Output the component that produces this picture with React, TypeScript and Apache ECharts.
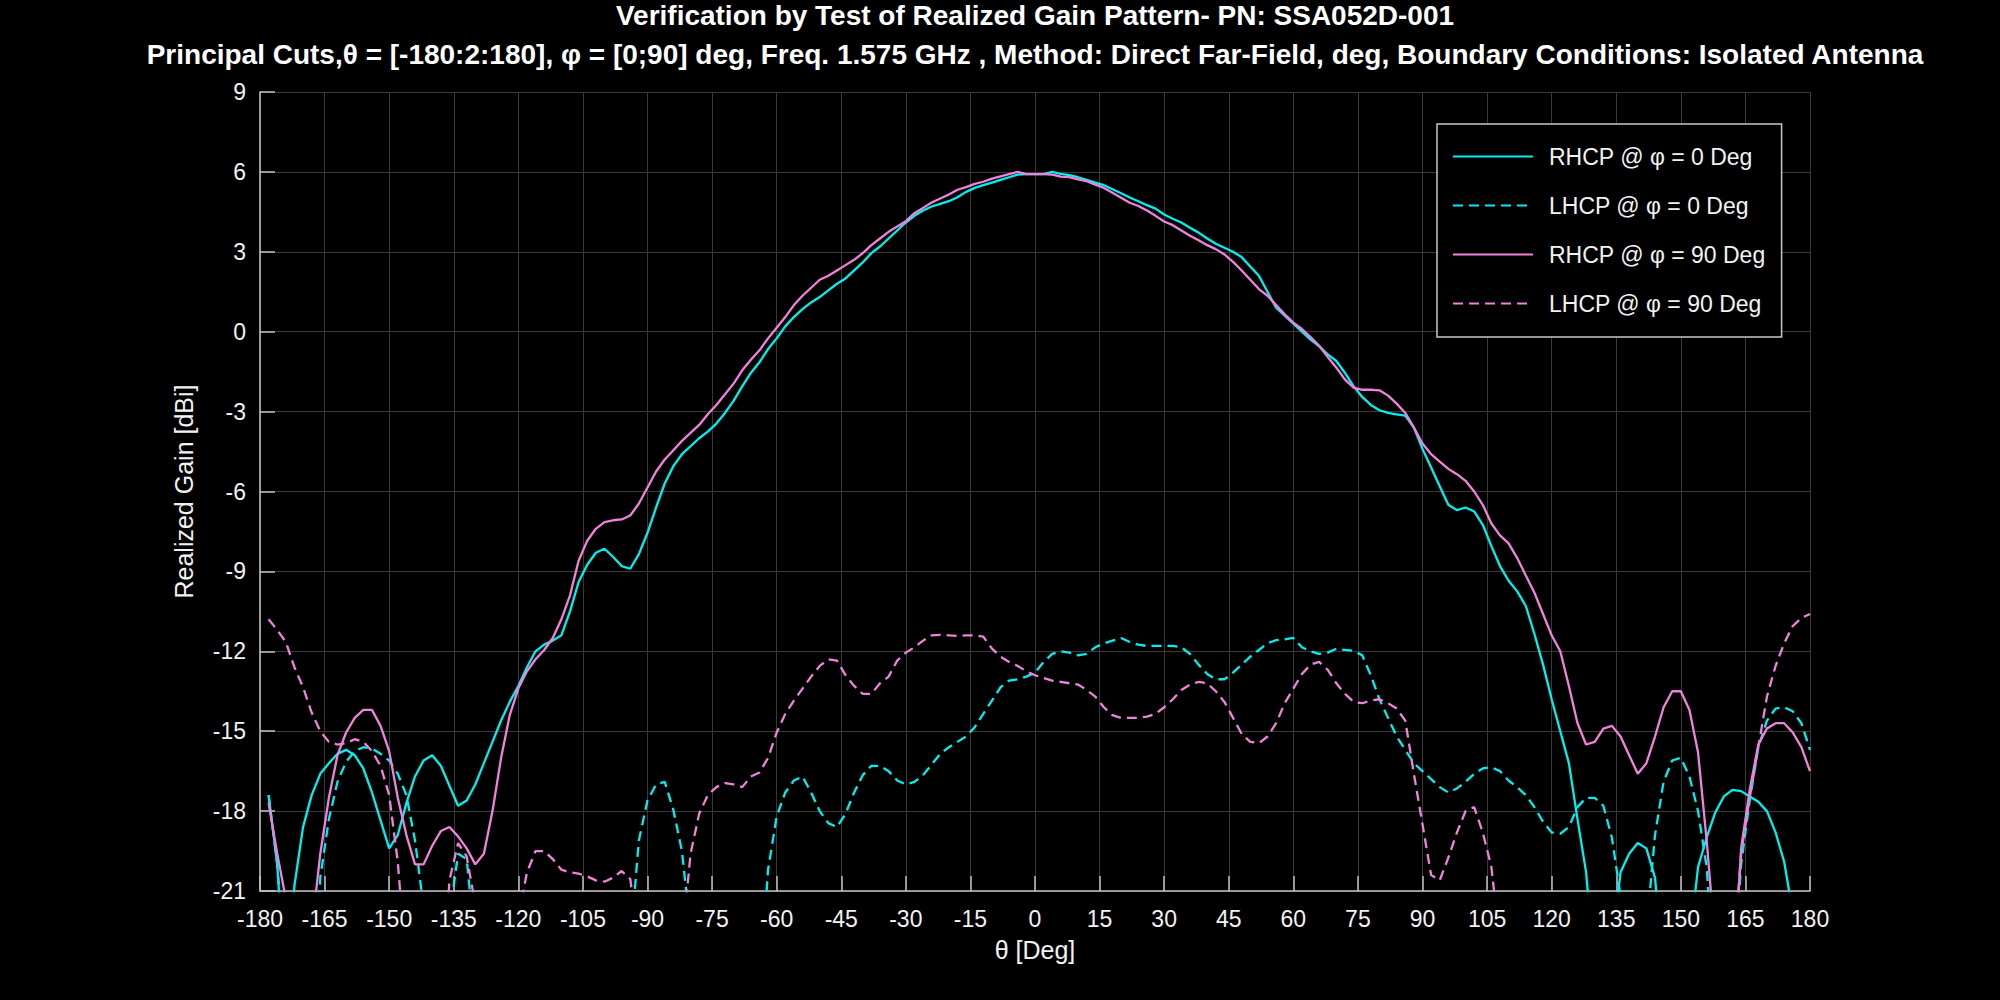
import React, { useEffect, useRef } from "react";
import * as echarts from "echarts";

// θ grid in degrees (data begins at -178)
const theta = [
  -178, -176, -174, -172, -170, -168, -166, -164, -162, -160,
  -158, -156, -154, -152, -150, -148, -146, -144, -142, -140,
  -138, -136, -134, -132, -130, -128, -126, -124, -122, -120,
  -118, -116, -114, -112, -110, -108, -106, -104, -102, -100,
  -98, -96, -94, -92, -90, -88, -86, -84, -82, -80,
  -78, -76, -74, -72, -70, -68, -66, -64, -62, -60,
  -58, -56, -54, -52, -50, -48, -46, -44, -42, -40,
  -38, -36, -34, -32, -30, -28, -26, -24, -22, -20,
  -18, -16, -14, -12, -10, -8, -6, -4, -2, 0,
  2, 4, 6, 8, 10, 12, 14, 16, 18, 20,
  22, 24, 26, 28, 30, 32, 34, 36, 38, 40,
  42, 44, 46, 48, 50, 52, 54, 56, 58, 60,
  62, 64, 66, 68, 70, 72, 74, 76, 78, 80,
  82, 84, 86, 88, 90, 92, 94, 96, 98, 100,
  102, 104, 106, 108, 110, 112, 114, 116, 118, 120,
  122, 124, 126, 128, 130, 132, 134, 136, 138, 140,
  142, 144, 146, 148, 150, 152, 154, 156, 158, 160,
  162, 164, 166, 168, 170, 172, 174, 176, 178, 180,
];

const rhcpPhi0 = [
  -17.4, -20.0, -25, -20.8, -18.6, -17.4, -16.6, -16.2, -15.85, -15.7,
  -15.9, -16.4, -17.3, -18.35, -19.4, -18.9, -17.7, -16.7, -16.1, -15.9,
  -16.3, -17.05, -17.8, -17.6, -17.0, -16.2, -15.4, -14.6, -13.9, -13.3,
  -12.6, -12.0, -11.75, -11.6, -11.4, -10.5, -9.4, -8.75, -8.3, -8.15,
  -8.45, -8.8, -8.9, -8.35, -7.55, -6.6, -5.7, -5.05, -4.6, -4.3,
  -4.0, -3.75, -3.45, -3.05, -2.6, -2.05, -1.55, -1.15, -0.65, -0.25,
  0.2, 0.55, 0.85, 1.1, 1.3, 1.55, 1.8, 2.0, 2.3, 2.6,
  2.95, 3.2, 3.5, 3.8, 4.1, 4.35, 4.55, 4.7, 4.8, 4.9,
  5.05, 5.25, 5.4, 5.5, 5.6, 5.7, 5.8, 5.9, 5.92, 5.92,
  5.92, 6.0, 5.93, 5.88, 5.8, 5.7, 5.6, 5.5, 5.35, 5.2,
  5.04, 4.9, 4.75, 4.62, 4.4, 4.24, 4.1, 3.9, 3.72, 3.5,
  3.3, 3.15, 3.0, 2.8, 2.45, 2.1, 1.5, 0.9, 0.6, 0.3,
  0.0, -0.3, -0.55, -0.85, -1.1, -1.55, -2.05, -2.45, -2.75, -2.95,
  -3.05, -3.1, -3.15, -3.6, -4.4, -5.1, -5.8, -6.5, -6.7, -6.6,
  -6.75, -7.25, -8.05, -8.8, -9.35, -9.75, -10.3, -11.35, -12.5, -13.8,
  -15.0, -16.2, -18.3, -20.3, -24, -28, -23, -20.3, -19.6, -19.2,
  -19.4, -20.5, -24, -28, -28, -23, -20.1, -19.0, -18.05, -17.45,
  -17.2, -17.25, -17.45, -17.65, -18.0, -18.8, -19.9, -21.8, -26, -30,
];

const lhcpPhi0 = [
  -17.4, -20.0, -24, -30, -30, -27, -20.5, -18.3, -16.9, -16.15,
  -15.75, -15.6, -15.65, -15.85, -16.1, -16.6, -17.4, -19.1, -21.6, -27,
  -30, -22, -19.6, -19.8, -23, -28, -30, -30, -30, -30,
  -30, -30, -30, -30, -30, -30, -30, -30, -30, -30,
  -30, -30, -23, -19.1, -17.6, -17.0, -16.9, -17.95, -19.5, -22.5,
  -28, -30, -30, -30, -30, -30, -30, -25, -20.2, -18.2,
  -17.3, -16.85, -16.7, -17.3, -18.0, -18.45, -18.6, -18.1, -17.3, -16.65,
  -16.3, -16.3, -16.5, -16.85, -17.0, -16.9, -16.65, -16.25, -15.85, -15.6,
  -15.4, -15.2, -14.85, -14.35, -13.85, -13.35, -13.1, -13.05, -12.95, -12.8,
  -12.4, -12.1, -12.0, -12.05, -12.15, -12.1, -11.85, -11.7, -11.6, -11.5,
  -11.65, -11.75, -11.8, -11.8, -11.8, -11.8, -11.85, -12.1, -12.5, -12.85,
  -13.05, -13.05, -12.8, -12.5, -12.2, -11.95, -11.7, -11.58, -11.55, -11.5,
  -11.85, -12.0, -12.1, -12.05, -11.9, -11.95, -11.98, -12.15, -12.9, -13.8,
  -14.5, -15.2, -15.7, -16.2, -16.5, -16.8, -17.1, -17.3, -17.15, -16.9,
  -16.6, -16.4, -16.35, -16.5, -16.85, -17.1, -17.4, -17.85, -18.4, -18.8,
  -18.85, -18.6, -17.85, -17.5, -17.5, -17.8, -19.0, -21.2, -26, -26,
  -22.5, -18.9, -16.9, -16.1, -16.0, -16.7, -18.0, -20.1, -25, -28,
  -25, -20.0, -17.6, -15.6, -14.6, -14.15, -14.1, -14.25, -14.7, -15.7,
];

const rhcpPhi90 = [
  -17.7, -19.6, -21.3, -25, -27, -22.5, -19.6, -17.5, -15.9, -15.05,
  -14.5, -14.2, -14.2, -14.8, -15.75, -17.5, -18.9, -20.0, -20.0, -19.3,
  -18.75, -18.6, -18.95, -19.4, -20.0, -19.6, -18.0, -16.0, -14.4, -13.4,
  -12.75, -12.3, -11.95, -11.5, -10.8, -9.9, -8.6, -7.85, -7.4, -7.15,
  -7.08, -7.05, -6.9, -6.45, -5.85, -5.25, -4.8, -4.45, -4.1, -3.8,
  -3.5, -3.1, -2.75, -2.35, -1.95, -1.45, -1.05, -0.7, -0.25, 0.15,
  0.55, 1.0, 1.35, 1.65, 1.95, 2.1, 2.3, 2.5, 2.7, 2.95,
  3.25, 3.5, 3.75, 3.95, 4.15, 4.45, 4.65, 4.85, 5.0, 5.15,
  5.33, 5.43, 5.55, 5.63, 5.75, 5.83, 5.92, 6.0, 5.92, 5.92,
  5.92, 5.9, 5.82, 5.8, 5.72, 5.65, 5.52, 5.4, 5.22, 5.03,
  4.84, 4.72, 4.55, 4.35, 4.14, 4.0, 3.8, 3.6, 3.43, 3.25,
  3.1, 2.9, 2.62, 2.3, 1.95, 1.6, 1.35, 1.0, 0.65, 0.34,
  0.1, -0.2, -0.53, -0.95, -1.35, -1.8, -2.1, -2.18, -2.18, -2.2,
  -2.4, -2.7, -3.05, -3.6, -4.2, -4.6, -4.88, -5.15, -5.35, -5.6,
  -6.0, -6.5, -7.2, -7.65, -7.95, -8.5, -9.15, -9.8, -10.6, -11.4,
  -12.0, -13.3, -14.7, -15.5, -15.4, -14.9, -14.8, -15.2, -15.9, -16.6,
  -16.2, -15.2, -14.1, -13.5, -13.5, -14.2, -15.8, -19.1, -23, -28,
  -25, -19.4, -17.2, -15.5, -14.9, -14.7, -14.7, -15.05, -15.6, -16.5,
];

const lhcpPhi90 = [
  -10.8, -11.2, -11.65, -12.6, -13.35, -14.3, -15.0, -15.4, -15.5, -15.45,
  -15.3, -15.4, -15.75, -16.3, -17.4, -19.9, -24, -28, -28, -28,
  -26, -20.6, -19.2, -19.7, -21.5, -26, -30, -30, -30, -22,
  -20.3, -19.5, -19.5, -19.8, -20.2, -20.3, -20.35, -20.45, -20.6, -20.65,
  -20.5, -20.25, -20.55, -23, -28, -30, -30, -28, -23, -19.6,
  -18.1, -17.4, -17.1, -16.95, -17.0, -17.1, -16.7, -16.55, -16.0, -15.05,
  -14.35, -13.85, -13.4, -12.95, -12.55, -12.3, -12.35, -12.9, -13.3, -13.6,
  -13.6, -13.2, -12.95, -12.35, -12.05, -11.85, -11.6, -11.4, -11.38, -11.4,
  -11.42, -11.4, -11.4, -11.45, -11.9, -12.2, -12.4, -12.55, -12.75, -12.9,
  -13.0, -13.1, -13.15, -13.2, -13.25, -13.45, -13.7, -14.1, -14.4, -14.5,
  -14.5, -14.5, -14.45, -14.35, -14.1, -13.8, -13.45, -13.25, -13.15, -13.2,
  -13.5, -13.9, -14.5, -15.1, -15.4, -15.45, -15.2, -14.7, -13.95, -13.4,
  -12.85, -12.5, -12.4, -12.7, -13.2, -13.6, -13.9, -13.95, -13.85, -13.8,
  -13.95, -14.15, -14.6, -16.6, -18.5, -20.4, -20.6, -19.75, -18.8, -18.0,
  -17.85, -18.8, -20.1, -23, -28, -30, -30, -30, -30, -30,
  -30, -30, -30, -30, -30, -30, -30, -30, -30, -30,
  -30, -30, -30, -30, -30, -30, -30, -30, -30, -28,
  -24, -19.6, -17.5, -15.6, -13.7, -12.55, -11.7, -11.05, -10.75, -10.6,
];

const seriesNames = [
  "RHCP @ φ = 0 Deg",
  "LHCP @ φ = 0 Deg",
  "RHCP @ φ = 90 Deg",
  "LHCP @ φ = 90 Deg",
];
const titleLines = [
  "Verification by Test of Realized Gain Pattern- PN: SSA052D-001",
  "Principal Cuts,θ = [-180:2:180], φ = [0;90] deg, Freq. 1.575 GHz , Method: Direct Far-Field, deg, Boundary Conditions: Isolated Antenna",
];
const xAxisName = "θ [Deg]";
const yAxisName = "Realized Gain [dBi]";

const CYAN = "#00f0f0";
const PINK = "#f082dc";
const FONT = "'Liberation Sans', Arial, Helvetica, sans-serif";
const TEXT = "#f2f2f2";
const AXIS = "#c4c4c4";
const GRID = "#393939";

function pairs(vals: number[]) {
  return theta.map((t, i) => [t, vals[i]]);
}

export default function App() {
  const ref = useRef<HTMLDivElement>(null);
  useEffect(() => {
    const chart = echarts.init(ref.current!, null, { renderer: "svg" });
    const mk = (name: string, vals: number[], color: string, dashed: boolean) => ({
      name,
      type: "line",
      data: pairs(vals),
      symbol: "none",
      showSymbol: false,
      clip: true,
      lineStyle: { color, width: 2.3, type: dashed ? [10, 6] : "solid" },
      itemStyle: { color },
    });
    chart.setOption({
      animation: false,
      backgroundColor: "#000",
      textStyle: { fontFamily: FONT },
      graphic: [
        {
          type: "text",
          x: 1035,
          y: 15,
          style: {
            text: titleLines[0],
            fill: "#fff",
            font: `bold 28px ${FONT}`,
            textAlign: "center",
            textVerticalAlign: "middle",
          },
        },
        {
          type: "text",
          x: 1035,
          y: 54,
          style: {
            text: titleLines[1],
            fill: "#fff",
            font: `bold 28px ${FONT}`,
            textAlign: "center",
            textVerticalAlign: "middle",
          },
        },
      ],
      grid: { left: 260, right: 190, top: 92, bottom: 109, containLabel: false },
      legend: {
        orient: "vertical",
        left: 1437,
        top: 124,
        padding: [21, 16, 22, 15],
        itemGap: 26,
        itemWidth: 80,
        itemHeight: 14,
        backgroundColor: "#000",
        borderColor: "#c8c8c8",
        borderWidth: 1.5,
        borderRadius: 0,
        data: seriesNames,
        itemStyle: { opacity: 0 },
        textStyle: { color: TEXT, fontSize: 23, fontFamily: FONT, padding: [0, 0, 0, 11] },
      },
      xAxis: {
        type: "value",
        min: -180,
        max: 180,
        interval: 15,
        name: xAxisName,
        nameLocation: "middle",
        nameGap: 46,
        nameTextStyle: { color: TEXT, fontSize: 25, fontFamily: FONT },
        axisLine: { show: true, onZero: false, lineStyle: { color: AXIS, width: 1.5 } },
        axisTick: { show: true, inside: true, length: 15, lineStyle: { color: AXIS, width: 1.5 } },
        axisLabel: { color: TEXT, fontSize: 23, margin: 16, fontFamily: FONT },
        splitLine: { show: true, lineStyle: { color: GRID, width: 1 } },
      },
      yAxis: {
        type: "value",
        min: -21,
        max: 9,
        interval: 3,
        name: yAxisName,
        nameLocation: "middle",
        nameGap: 64,
        nameRotate: 90,
        nameTextStyle: { color: TEXT, fontSize: 25, fontFamily: FONT },
        axisLine: { show: true, onZero: false, lineStyle: { color: AXIS, width: 1.5 } },
        axisTick: { show: true, inside: true, length: 15, lineStyle: { color: AXIS, width: 1.5 } },
        axisLabel: { color: TEXT, fontSize: 23, margin: 14, fontFamily: FONT },
        splitLine: { show: true, lineStyle: { color: GRID, width: 1 } },
      },
      series: [
        mk(seriesNames[0], rhcpPhi0, CYAN, false),
        mk(seriesNames[1], lhcpPhi0, CYAN, true),
        mk(seriesNames[2], rhcpPhi90, PINK, false),
        mk(seriesNames[3], lhcpPhi90, PINK, true),
      ],
    });
    return () => chart.dispose();
  }, []);
  return (
    <div
      ref={ref}
      style={{ position: "fixed", left: 0, top: 0, width: 2000, height: 1000, background: "#000" }}
    />
  );
}
